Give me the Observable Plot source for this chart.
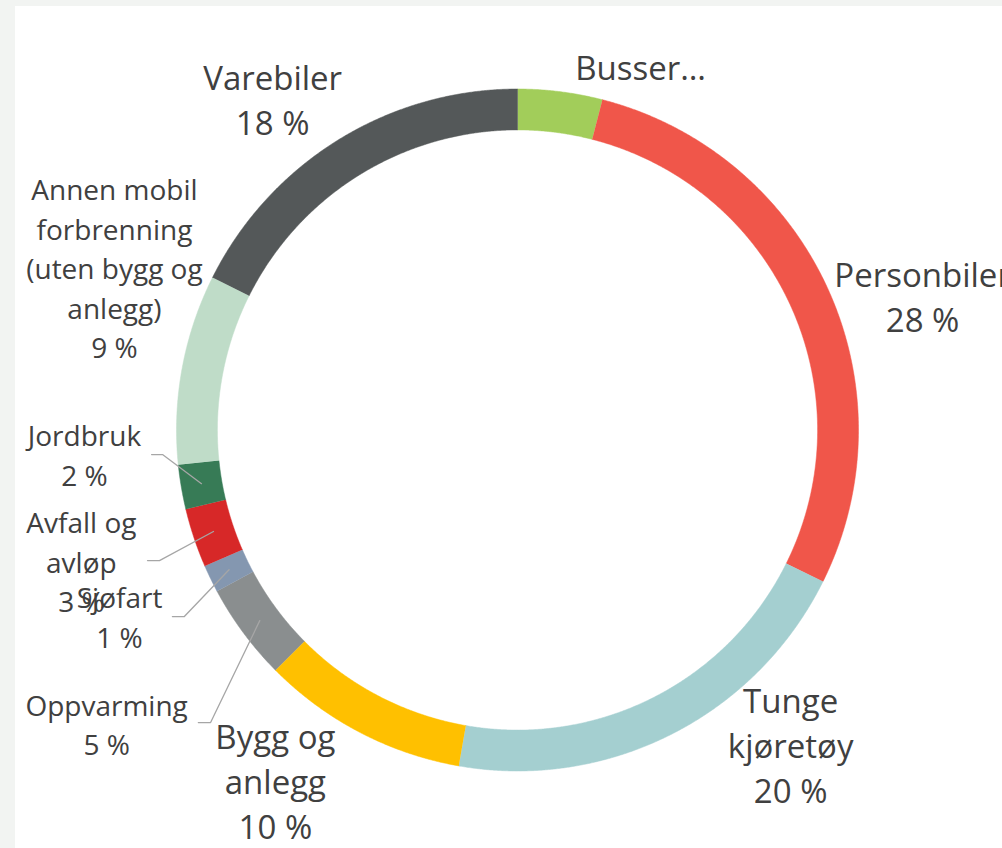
<!DOCTYPE html>
<html><head><meta charset="utf-8">
<script src="https://cdn.jsdelivr.net/npm/d3@7"></script>
<script src="https://cdn.jsdelivr.net/npm/@observablehq/plot@0.6"></script>
<style>
html,body{margin:0;padding:0;background:#f2f4f2;width:1002px;height:848px;overflow:hidden}
#chart{position:absolute;left:15px;top:6px;width:987px;height:842px;background:#fff;overflow:hidden}
#chart svg{display:block;background:#fff}
</style></head><body><div id="chart"></div>
<script>
// ---- data ----
const categories = ["Busser", "Personbiler", "Tunge kjøretøy", "Bygg og anlegg", "Oppvarming", "Sjøfart", "Avfall og avløp", "Jordbruk", "Annen mobil forbrenning (uten bygg og anlegg)", "Varebiler"];
const values = [4.0, 28.3, 20.4, 9.8, 4.6, 1.3, 2.8, 2.1, 9.0, 17.6];
const colors = ["#a2cd5a", "#f0564a", "#a4cfd0", "#ffc000", "#8a8e8f", "#8497b0", "#d72828", "#377b56", "#bfdcc8", "#545859"];
const labelNames = ["Busser…", "Personbiler", "Tunge\nkjøretøy", "Bygg og\nanlegg", "Oppvarming", "Sjøfart", "Avfall og\navløp", "Jordbruk", "Annen mobil\nforbrenning\n(uten bygg og\nanlegg)", "Varebiler"];
const showPercent = [false, true, true, true, true, true, true, true, true, true];

// ---- layout (in units of the outer radius, relative to the centre) ----
const R = 341, W = 987, H = 842, cx = 502, cy = 423.5, inner = 0.88;
const labelPos = [[0.361, 1.025], [1.188, 0.286], [0.801, -1.095], [-0.710, -1.198], [-1.205, -0.954], [-1.167, -0.638], [-1.279, -0.535], [-1.270, -0.163], [-1.182, 0.210], [-0.718, 0.864]];
const labelBig = [true, true, true, true, false, false, false, false, false, true];
const leaderStart = {"Jordbruk": [[-1.073, -0.072], [-1.041, -0.072]], "Avfall og avløp": [[-1.085, -0.383], [-1.050, -0.383]], "Sjøfart": [[-1.012, -0.547], [-0.977, -0.547]], "Oppvarming": [[-0.936, -0.858], [-0.900, -0.858]]};

const rows = categories.map((c, i) => ({name: c, value: values[i]}));
const arcs = d3.pie().sort(null).value(d => d.value)(rows);

const slicePts = [];
for (const a of arcs) {
  const n = Math.max(2, Math.ceil((a.endAngle - a.startAngle) / 0.004));
  for (let i = 0; i <= n; i++) {
    const t = a.startAngle + (a.endAngle - a.startAngle) * i / n;
    slicePts.push({name: a.data.name, x: Math.sin(t), y: Math.cos(t)});
  }
  for (let i = n; i >= 0; i--) {
    const t = a.startAngle + (a.endAngle - a.startAngle) * i / n;
    slicePts.push({name: a.data.name, x: inner * Math.sin(t), y: inner * Math.cos(t)});
  }
}

const leaderPts = [];
for (const a of arcs) {
  const s = leaderStart[a.data.name];
  if (!s) continue;
  const m = (a.startAngle + a.endAngle) / 2;
  leaderPts.push({name: a.data.name, x: s[0][0], y: s[0][1]});
  leaderPts.push({name: a.data.name, x: s[1][0], y: s[1][1]});
  leaderPts.push({name: a.data.name, x: 0.94 * Math.sin(m), y: 0.94 * Math.cos(m)});
}

const labels = arcs.map((a, i) => ({
  name: a.data.name,
  text: labelNames[i] + (showPercent[i] ? "\n" + Math.round(a.data.value) + " %" : ""),
  x: labelPos[i][0], y: labelPos[i][1], big: labelBig[i]
}));

const font = "'Open Sans', 'Noto Sans', sans-serif";
const chart = Plot.plot({
  width: W, height: H, margin: 0,
  x: {domain: [-cx / R, (W - cx) / R], axis: null},
  y: {domain: [-(H - cy) / R, cy / R], axis: null},
  color: {domain: categories, range: colors},
  style: {background: "#fff", fontFamily: font},
  marks: [
    Plot.line(slicePts, {x: "x", y: "y", z: "name", fill: "name", stroke: "name", strokeWidth: 0.5, curve: "linear"}),
    Plot.line(leaderPts, {x: "x", y: "y", z: "name", stroke: "#a6a6a6", strokeWidth: 1.3, curve: "linear"}),
    Plot.text(labels.filter(d => d.big), {x: "x", y: "y", text: "text", fontSize: 33, lineHeight: 1.364, lineAnchor: "bottom", fill: "#404040", fontFamily: font}),
    Plot.text(labels.filter(d => !d.big), {x: "x", y: "y", text: "text", fontSize: 28, lineHeight: 1.41, lineAnchor: "bottom", fill: "#404040", fontFamily: font})
  ]
});
document.getElementById("chart").appendChild(chart);
</script>
</body></html>
